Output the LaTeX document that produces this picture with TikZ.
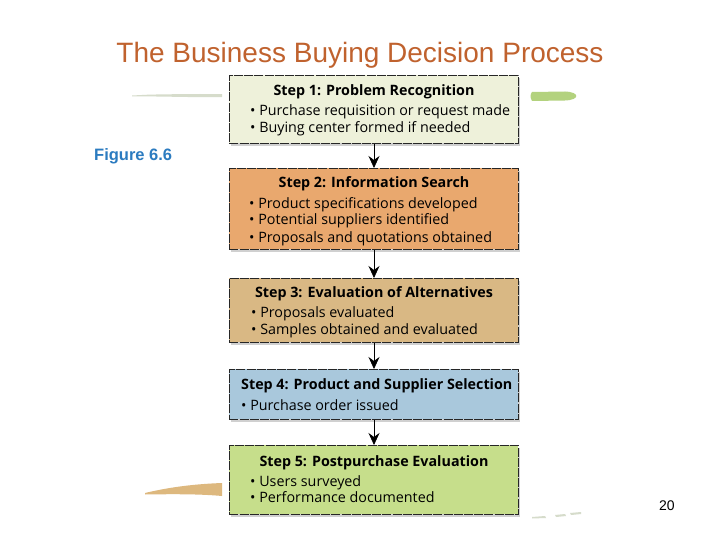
\documentclass[tikz,border=0pt]{standalone}
\usepackage{fontspec}
\setmainfont{Open Sans}
\newfontfamily\arialfont{Liberation Sans}
\usetikzlibrary{arrows.meta,shadows}
\definecolor{titlecol}{HTML}{C0622E}
\definecolor{figcol}{HTML}{2B7BC0}
\definecolor{cone}{HTML}{EEF1DA}
\definecolor{ctwo}{HTML}{E9A86E}
\definecolor{cthree}{HTML}{D9B884}
\definecolor{cfour}{HTML}{A9C8DC}
\definecolor{cfive}{HTML}{C6DE8B}
\definecolor{brushgreen}{HTML}{B3D27E}
\definecolor{brushtan}{HTML}{DDB87E}
\definecolor{brushgray}{HTML}{D6DCCB}
\begin{document}
\begin{tikzpicture}[x=1pt,y=-1pt,
  stepbox/.style={draw=black!85, line width=0.9pt, dash pattern=on 9pt off 1.2pt,
    minimum width=289pt, inner sep=0pt, anchor=north west,
    drop shadow={shadow xshift=2pt, shadow yshift=-3pt, opacity=0.3, fill=black!60}},
  headtext/.style={font=\bfseries\fontsize{14.3}{16}\selectfont, anchor=base, inner sep=0pt},
  bullettext/.style={font=\fontsize{14.3}{16}\selectfont, anchor=base west, inner sep=0pt},
  flowarrow/.style={draw=black, line width=0.7pt, -{Stealth[length=12pt,width=11pt,inset=4pt]}}]
\useasboundingbox (0,0) rectangle (720,540);
\fill[white] (0,0) rectangle (720,540);

% decorative brush strokes
\fill[brushgray] (132,95.5) -- (150,94.6) -- (175,94.2) -- (200,94) -- (222,94.2) -- (222,97) -- (200,97.2) -- (175,96.8) -- (150,96.4) -- (132,96.4) -- cycle;
\fill[brushgreen] (532,92) -- (565,91.5) .. controls (580,92) and (580,100) .. (565,100.5) -- (532,101) .. controls (530,97) and (530,95) .. (532,92) -- cycle;
\fill[brushtan] (145,493) .. controls (170,487) and (195,484) .. (222,483) -- (222,496) .. controls (200,494) and (175,494) .. (145,494.5) -- cycle;
\fill[brushgray] (532,517) -- (545,516) -- (546,518) -- (532,518.5) -- cycle;
\fill[brushgray] (555,515) -- (565,514) -- (566,516) -- (556,517) -- cycle;
\fill[brushgray] (570,513) -- (581,512) -- (581,514) -- (571,515) -- cycle;

% title and labels
\node[font=\arialfont\fontsize{28}{32}\selectfont, text=titlecol, anchor=base, inner sep=0pt] (title) at (360,63) {The Business Buying Decision Process};
\node[font=\arialfont\bfseries\fontsize{16.5}{19}\selectfont, text=figcol, anchor=base west, inner sep=0pt] (fig) at (94,161) {Figure 6.6};
\node[font=\arialfont\fontsize{14}{16}\selectfont, anchor=base west, inner sep=0pt] (page) at (659,510) {20};

% boxes
\node[stepbox, fill=cone, minimum height=68pt] (b1) at (229,75) {};
\node[stepbox, fill=ctwo, minimum height=81pt] (b2) at (229,168) {};
\node[stepbox, fill=cthree, minimum height=64pt] (b3) at (229,278) {};
\node[stepbox, fill=cfour, minimum height=50pt] (b4) at (229,369) {};
\node[stepbox, fill=cfive, minimum height=69pt] (b5) at (229,445) {};

% box texts
\node[headtext] (h1) at (374,96) {Step 1: Problem Recognition};
\node[bullettext] (b1a) at (250,116) {• Purchase requisition or request made};
\node[bullettext] (b1b) at (250,133) {• Buying center formed if needed};

\node[headtext] (h2) at (374,188) {Step 2: Information Search};
\node[bullettext] (b2a) at (249,208) {• Product specifications developed};
\node[bullettext] (b2b) at (249,225) {• Potential suppliers identified};
\node[bullettext] (b2c) at (249,242) {• Proposals and quotations obtained};

\node[headtext] (h3) at (374,297) {Step 3: Evaluation of Alternatives};
\node[bullettext] (b3a) at (251,317) {• Proposals evaluated};
\node[bullettext] (b3b) at (251,334) {• Samples obtained and evaluated};

\node[headtext, anchor=base west] (h4) at (241,389) {Step 4: Product and Supplier Selection};
\node[bullettext] (b4a) at (241,410) {• Purchase order issued};

\node[headtext] (h5) at (374,466) {Step 5: Postpurchase Evaluation};
\node[bullettext] (b5a) at (250,486) {• Users surveyed};
\node[bullettext] (b5b) at (250,502) {• Performance documented};

% arrows
\draw[flowarrow] (b1.south -| 374,0) -- (b2.north -| 374,0);
\draw[flowarrow] (b2.south -| 374,0) -- (b3.north -| 374,0);
\draw[flowarrow] (b3.south -| 374,0) -- (b4.north -| 374,0);
\draw[flowarrow] (b4.south -| 374,0) -- (b5.north -| 374,0);
\end{tikzpicture}
\end{document}
